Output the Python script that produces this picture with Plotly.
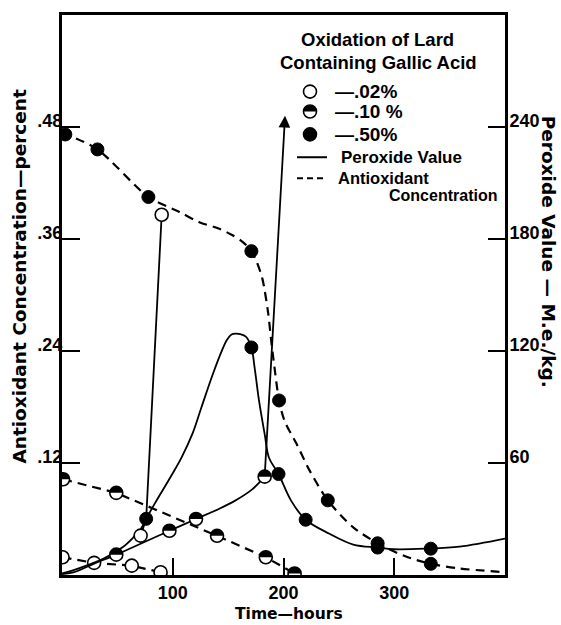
import plotly.graph_objects as go

# ---------------- data ----------------
# x axis: time (hours); left axis: antioxidant concentration (percent); right axis: peroxide value (M.e./kg)
x_ticks = [100, 200, 300]
x_ticktext = ["100", "200", "300"]
left_ticks = [0.12, 0.24, 0.36, 0.48]
left_ticktext = [".12", ".24", ".36", ".48"]
right_ticks = [60, 120, 180, 240]
right_ticktext = ["60", "120", "180", "240"]

# 0.02 % gallic acid (open circles)
t02_aox = [0.5, 29, 63, 89]
c02_aox = [0.019, 0.013, 0.010, 0.003]
t02_pv = [71, 90]
p02_pv = [21.1, 193]
# drawn peroxide path of the 0.02 % sample (jump)
t02_pv_line = [71, 76, 90]
p02_pv_line = [21.1, 30.1, 193]

# 0.10 % gallic acid (half-filled circles)
t10_aox = [1, 49, 140, 184, 210]
c10_aox = [0.1026, 0.088, 0.042, 0.019, 0.0016]
t10_pv = [49, 97, 121, 183]
p10_pv = [10.9, 23.7, 30.0, 52.7]
t10_pv_line = [0, 11, 29, 49, 97, 121, 142, 156, 172, 183]
p10_pv_line = [0.5, 1.5, 6.1, 10.9, 23.7, 30.0, 35.5, 39.7, 46.0, 52.7]
# arrow: peroxide of 0.10 % sample rising off scale
t10_arrow = [183, 201.4]
p10_arrow = [52.7, 246]

# 0.50 % gallic acid (filled circles)
t50_aox = [3, 32, 78, 171, 196, 240, 285, 333]
c50_aox = [0.472, 0.456, 0.405, 0.347, 0.187, 0.080, 0.034, 0.012]
t50_pv = [76, 171, 195.5, 220, 285, 333]
p50_pv = [30.1, 121.9, 54.1, 29.6, 14.7, 14.1]
# drawn curve paths
t50_aox_line = [0, 32, 78, 106, 124, 142, 154, 163, 171, 176, 181, 186, 189, 192, 196,
                201, 212, 224, 240, 263, 285, 310, 333, 359, 400]
c50_aox_line = [0.474, 0.456, 0.405, 0.389, 0.378, 0.371, 0.364, 0.357, 0.347, 0.335, 0.317,
                0.282, 0.250, 0.221, 0.187, 0.165, 0.140, 0.111, 0.080, 0.051, 0.034, 0.020,
                0.012, 0.007, 0.003]
t50_pv_line = [0, 17, 38, 55, 65, 71, 76, 84, 92, 100, 108, 118, 126, 136, 144, 149, 153,
               157, 161, 166, 171, 174, 178, 183, 187, 195.5, 207, 220, 241.5, 263, 285, 299,
               329, 359, 400]
p50_pv_line = [0.8, 4, 9, 15, 20.5, 24.5, 30.1, 38.5, 46.5, 54.5, 63, 76, 90, 107.3, 119.7,
               126, 128.8, 129.3, 129, 127.7, 121.9, 110.7, 93, 75.5, 62.7, 54.1, 39.7, 29.6,
               22.1, 16.3, 14.7, 13.8, 14.1, 15.2, 19.5]

# ---------------- figure ----------------
W, H = 561, 625
ML, MR, MT, MB = 62, 56, 12, 50
PW, PH = W - ML - MR, H - MT - MB


def px(x):
    return (x - ML) / PW


def py(y):
    return (H - MB - y) / PH


DASH = "9px,6px"
LW = 2.2
MS = 13
FONT = "Liberation Sans"
TFONT = "DejaVu Sans"

fig = go.Figure()

# lines
fig.add_trace(go.Scatter(x=t02_aox, y=c02_aox, mode="lines", yaxis="y",
                         line=dict(color="black", width=LW, dash=DASH)))
fig.add_trace(go.Scatter(x=t10_aox, y=c10_aox, mode="lines", yaxis="y",
                         line=dict(color="black", width=LW, dash=DASH)))
fig.add_trace(go.Scatter(x=t50_aox_line, y=c50_aox_line, mode="lines", yaxis="y",
                         line=dict(color="black", width=LW, dash=DASH, shape="spline", smoothing=0.8)))
fig.add_trace(go.Scatter(x=t02_pv_line, y=p02_pv_line, mode="lines", yaxis="y2",
                         line=dict(color="black", width=1.8)))
fig.add_trace(go.Scatter(x=t10_pv_line, y=p10_pv_line, mode="lines", yaxis="y2",
                         line=dict(color="black", width=1.8, shape="spline", smoothing=0.8)))
fig.add_trace(go.Scatter(x=t50_pv_line, y=p50_pv_line, mode="lines", yaxis="y2",
                         line=dict(color="black", width=1.8, shape="spline", smoothing=1.0)))

open_m = dict(size=MS, color="white", line=dict(color="black", width=1.6))
fill_m = dict(size=MS, color="black", line=dict(color="black", width=1))

# markers
fig.add_trace(go.Scatter(x=t02_aox, y=c02_aox, mode="markers", yaxis="y", marker=open_m))
fig.add_trace(go.Scatter(x=t02_pv, y=p02_pv, mode="markers", yaxis="y2", marker=open_m))
fig.add_trace(go.Scatter(x=t10_aox, y=c10_aox, mode="markers", yaxis="y", marker=open_m))
fig.add_trace(go.Scatter(x=t10_pv, y=p10_pv, mode="markers", yaxis="y2", marker=open_m))
fig.add_trace(go.Scatter(x=t50_aox, y=c50_aox, mode="markers", yaxis="y", marker=fill_m))
fig.add_trace(go.Scatter(x=t50_pv, y=p50_pv, mode="markers", yaxis="y2", marker=fill_m))

R = MS / 2
K = 0.5523 * R
HALF = (f"M {-R},0 C {-R},{K} {-K},{R} 0,{R} C {K},{R} {R},{K} {R},0 Z")

shapes = []
for t, c in zip(t10_aox, c10_aox):
    shapes.append(dict(type="path", xref="x", yref="y", xsizemode="pixel", ysizemode="pixel",
                       xanchor=t, yanchor=c, path=HALF, fillcolor="black", line=dict(width=0)))
for t, p in zip(t10_pv, p10_pv):
    shapes.append(dict(type="path", xref="x", yref="y2", xsizemode="pixel", ysizemode="pixel",
                       xanchor=t, yanchor=p, path=HALF, fillcolor="black", line=dict(width=0)))

# legend glyphs (paper coordinates)
LX = 310
for ly, fill in [(89, "white"), (109, "white"), (132, "black")]:
    shapes.append(dict(type="circle", xref="paper", yref="paper", xsizemode="pixel",
                       ysizemode="pixel", xanchor=px(LX), yanchor=py(ly),
                       x0=-R, x1=R, y0=-R, y1=R, fillcolor=fill,
                       line=dict(color="black", width=1.6)))
shapes.append(dict(type="path", xref="paper", yref="paper", xsizemode="pixel", ysizemode="pixel",
                   xanchor=px(LX), yanchor=py(109), path=HALF, fillcolor="black", line=dict(width=0)))
shapes.append(dict(type="line", xref="paper", yref="paper", x0=px(297), x1=px(327),
                   y0=py(155), y1=py(155), line=dict(color="black", width=2)))
shapes.append(dict(type="line", xref="paper", yref="paper", x0=px(297), x1=px(327),
                   y0=py(176), y1=py(176), line=dict(color="black", width=2, dash="6px,4px")))

ann = []


def text(x, y, s, size, anchor="left", family=FONT, angle=0):
    ann.append(dict(x=px(x), y=py(y), xref="paper", yref="paper", text=s, showarrow=False,
                    xanchor=anchor, yanchor="middle", textangle=angle,
                    font=dict(family=family, size=size, color="black", weight="bold")))


text(377, 37, "Oxidation of Lard", 18.5, "center")
text(378, 60, "Containing Gallic Acid", 18.5, "center")
text(333, 89, "—.02%", 19)
text(333, 109, "—.10 %", 19)
text(333, 132, "—.50%", 19)
text(339, 155, "Peroxide Value", 17)
text(336, 176, "Antioxidant", 16.5)
text(499, 193, "Concentration", 16, "right")
text(20, 275, "Antioxidant Concentration—percent", 18.5, "center", TFONT, -90)
text(548, 250, "Peroxide Value — M.e./kg.", 18.5, "center", TFONT, 90)
text(289, 614, "Time—hours", 15.5, "center", TFONT)

# arrow for the off-scale rise
ann.append(dict(x=t10_arrow[1], y=p10_arrow[1], xref="x", yref="y2",
                ax=t10_arrow[0], ay=p10_arrow[0], axref="x", ayref="y2",
                showarrow=True, arrowhead=2, arrowsize=1.3, arrowwidth=1.8,
                arrowcolor="black", standoff=0, startstandoff=0, text=""))

tickfont = dict(family=FONT, size=18, color="black", weight="bold")
fig.update_layout(
    width=W, height=H, margin=dict(l=ML, r=MR, t=MT, b=MB),
    paper_bgcolor="white", plot_bgcolor="white", showlegend=False,
    xaxis=dict(range=[0, 400], showline=True, linewidth=3, linecolor="black", mirror=True,
               ticks="inside", ticklen=17, tickwidth=2, tickcolor="black",
               tickvals=x_ticks, ticktext=x_ticktext, tickfont=tickfont,
               showgrid=False, zeroline=False, ticklabelstandoff=-1),
    yaxis=dict(range=[0, 0.6], showline=True, linewidth=3, linecolor="black",
               ticks="inside", ticklen=18, tickwidth=2, tickcolor="black",
               tickvals=left_ticks, ticktext=left_ticktext, tickfont=tickfont,
               showgrid=False, zeroline=False, ticklabelshift=-6, ticklabelstandoff=-7),
    yaxis2=dict(range=[0, 300], overlaying="y", side="right", showline=True, linewidth=3,
                linecolor="black", ticks="inside", ticklen=17, tickwidth=2, tickcolor="black",
                tickvals=right_ticks, ticktext=right_ticktext, tickfont=tickfont,
                showgrid=False, zeroline=False, ticklabelshift=-6, ticklabelstandoff=-2),
    shapes=shapes, annotations=ann,
)

fig.write_html("out.html", config={"displayModeBar": False},
               post_script="document.body.style.margin='0';")
